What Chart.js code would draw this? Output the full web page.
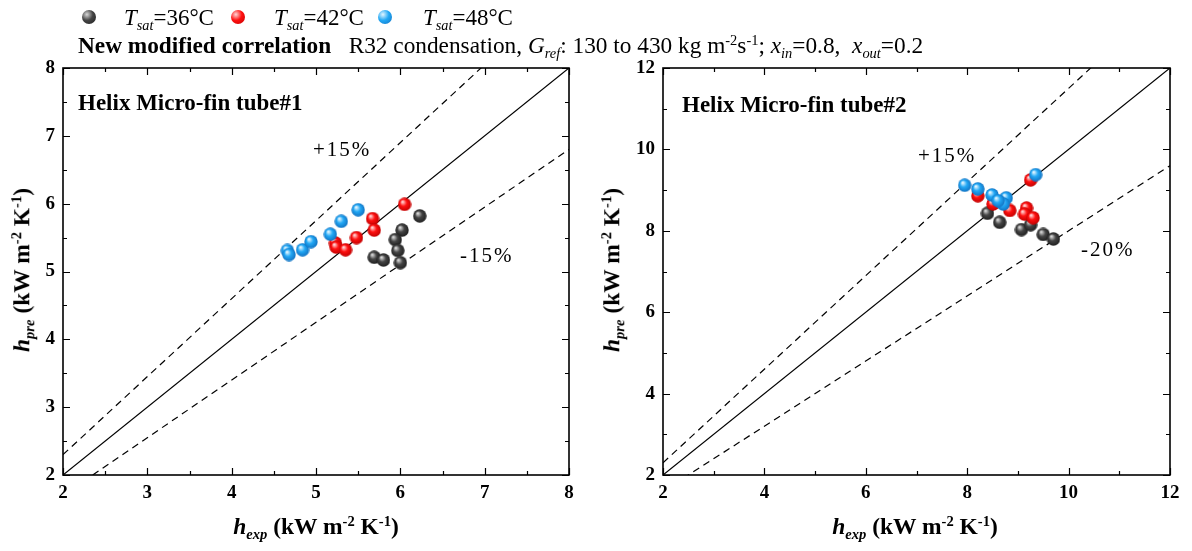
<!DOCTYPE html>
<html lang="en">
<head>
<meta charset="UTF-8">
<title>h_pre vs h_exp, helix micro-fin tubes</title>
<script src="https://cdn.jsdelivr.net/npm/chart.js"></script>
<style>
  body { margin: 0; background: #fff; color: #000; font-family: 'Liberation Serif', 'Times New Roman', serif; }
  #wrap { position: relative; width: 1192px; height: 551px; overflow: hidden; }
  canvas { position: absolute; top: 0; }
  .t { position: absolute; white-space: nowrap; line-height: 1; }
  .c { transform: translate(-50%, -50%); }
  .vc { transform: translateY(-50%); }
  .rot { transform: translate(-50%, -50%) rotate(-90deg); }
  .b { font-weight: bold; }
  .i { font-style: italic; }
  .sub { font-size: 0.62em; position: relative; top: 0.32em; }
  .sup { font-size: 0.62em; position: relative; top: -0.55em; }
  .ball { position: absolute; width: 14px; height: 14px; border-radius: 50%; transform: translate(-50%, -50%); }
  .pct { font-size: 21px; letter-spacing: 2px; }
  .ttl { font-size: 23.5px; }
</style>
</head>
<body>
<div id="wrap">
  <canvas id="c1" width="600" height="551" style="left:0"></canvas>
  <canvas id="c2" width="600" height="551" style="left:592px"></canvas>

  <span class="ball" style="left:89px;top:17px;background:radial-gradient(circle at 35% 32%, #d8d8d8 0, #444 45%, #1e1e1e 100%)"></span>
  <div class="t vc" style="left:124px;top:17px;font-size:23px"><span class="i">T</span><span class="sub i">sat</span>=36°C</div>
  <span class="ball" style="left:238px;top:17px;background:radial-gradient(circle at 35% 32%, #ffd6d6 0, #ff1010 45%, #c00000 100%)"></span>
  <div class="t vc" style="left:274px;top:17px;font-size:23px"><span class="i">T</span><span class="sub i">sat</span>=42°C</div>
  <span class="ball" style="left:385px;top:17px;background:radial-gradient(circle at 35% 32%, #e2f5ff 0, #22a8f5 45%, #1070c0 100%)"></span>
  <div class="t vc" style="left:423px;top:17px;font-size:23px"><span class="i">T</span><span class="sub i">sat</span>=48°C</div>

  <div class="t vc" style="left:78px;top:46px;font-size:23.3px">
    <span class="b">New modified correlation</span>&nbsp;&nbsp; R32 condensation, <span class="i">G</span><span class="sub i">ref</span>: 130 to 430 kg m<span class="sup">-2</span>s<span class="sup">-1</span>; <span class="i">x</span><span class="sub i">in</span>=0.8,&nbsp; <span class="i">x</span><span class="sub i">out</span>=0.2
  </div>

  <div class="t vc b" style="left:78px;top:102px;font-size:23px">Helix Micro-fin tube#1</div>
  <div class="t vc b" style="left:682px;top:104px;font-size:23px">Helix Micro-fin tube#2</div>

  <div class="t vc pct" style="left:313px;top:149px">+15%</div>
  <div class="t vc pct" style="left:460px;top:255px">-15%</div>
  <div class="t vc pct" style="left:918px;top:155px">+15%</div>
  <div class="t vc pct" style="left:1081px;top:249px">-20%</div>

  <div class="t rot b ttl" style="left:22px;top:270px"><span class="i">h</span><span class="sub i">pre</span> (kW m<span class="sup">-2</span> K<span class="sup">-1</span>)</div>
  <div class="t rot b ttl" style="left:612px;top:270px"><span class="i">h</span><span class="sub i">pre</span> (kW m<span class="sup">-2</span> K<span class="sup">-1</span>)</div>
  <div class="t c b ttl" style="left:316px;top:527px"><span class="i">h</span><span class="sub i">exp</span> (kW m<span class="sup">-2</span> K<span class="sup">-1</span>)</div>
  <div class="t c b ttl" style="left:915px;top:527px"><span class="i">h</span><span class="sub i">exp</span> (kW m<span class="sup">-2</span> K<span class="sup">-1</span>)</div>
</div>

<script>
  // tube #1: experimental vs predicted h (kW m-2 K-1), one pair of arrays per Tsat
  const t1_36_exp = [6.23, 6.02, 5.94, 5.97, 5.69, 5.80, 6.00];
  const t1_36_pre = [5.82, 5.61, 5.47, 5.31, 5.21, 5.17, 5.13];
  const t1_42_exp = [5.23, 5.24, 5.35, 5.48, 5.67, 5.69, 6.05];
  const t1_42_pre = [5.42, 5.36, 5.32, 5.50, 5.78, 5.61, 5.99];
  const t1_48_exp = [4.66, 4.68, 4.84, 4.94, 5.17, 5.30, 5.50];
  const t1_48_pre = [5.31, 5.25, 5.32, 5.44, 5.55, 5.74, 5.91];

  // tube #2
  const t2_36_exp = [8.40, 8.64, 9.07, 9.25, 9.50, 9.70];
  const t2_36_pre = [8.43, 8.21, 8.03, 8.15, 7.91, 7.80];
  const t2_42_exp = [8.21, 8.51, 8.84, 9.25, 9.17, 9.13, 9.30];
  const t2_42_pre = [8.86, 8.66, 8.50, 9.25, 8.56, 8.41, 8.32];
  const t2_48_exp = [7.95, 8.21, 8.49, 8.77, 8.71, 8.61, 9.35];
  const t2_48_pre = [9.12, 9.03, 8.88, 8.81, 8.66, 8.74, 9.38];

  // y = k * x reference lines (perfect agreement and error bands)
  const t1_bands = [1, 1.15, 0.85];
  const t2_bands = [1, 1.15, 0.8];

  // axis ranges, labelled ticks and minor step
  const t1_range = [2, 8];
  const t2_range = [2, 12];
  const t1_ticks = [2, 3, 4, 5, 6, 7, 8];
  const t2_ticks = [2, 4, 6, 8, 10, 12];
  const t1_minor = 0.5;
  const t2_minor = 1;

  // shaded sphere used as point style
  function ball(hi, mid, edge, d) {
    const cv = document.createElement('canvas');
    cv.width = cv.height = d;
    const g = cv.getContext('2d');
    const r = d / 2;
    const gr = g.createRadialGradient(r * 0.7, r * 0.62, r * 0.08, r, r, r);
    gr.addColorStop(0, hi);
    gr.addColorStop(0.45, mid);
    gr.addColorStop(1, edge);
    g.fillStyle = gr;
    g.beginPath();
    g.arc(r, r, r - 0.3, 0, Math.PI * 2);
    g.fill();
    return cv;
  }
  const ballBlack = ball('#d8d8d8', '#444', '#1e1e1e', 14);
  const ballRed = ball('#ffd6d6', '#ff1010', '#c00000', 14);
  const ballBlue = ball('#e2f5ff', '#22a8f5', '#1070c0', 14);

  const zip = (xs, ys) => xs.map((x, i) => ({ x: x, y: ys[i] }));

  // box frame with inward ticks on all four sides
  const frame = {
    id: 'frame',
    afterDraw(chart) {
      const { ctx, chartArea: a, scales: { x, y } } = chart;
      ctx.save();
      ctx.strokeStyle = '#000';
      ctx.lineWidth = 1.2;
      ctx.beginPath();
      x.ticks.forEach(t => {
        const px = Math.round(x.getPixelForValue(t.value)) + 0.5;
        const len = t.label ? 7 : 4;
        ctx.moveTo(px, a.bottom); ctx.lineTo(px, a.bottom - len);
        ctx.moveTo(px, a.top); ctx.lineTo(px, a.top + len);
      });
      y.ticks.forEach(t => {
        const py = Math.round(y.getPixelForValue(t.value)) + 0.5;
        const len = t.label ? 7 : 4;
        ctx.moveTo(a.left, py); ctx.lineTo(a.left + len, py);
        ctx.moveTo(a.right, py); ctx.lineTo(a.right - len, py);
      });
      ctx.stroke();
      ctx.lineWidth = 1.6;
      ctx.strokeRect(a.left, a.top, a.right - a.left, a.bottom - a.top);
      ctx.restore();
    }
  };

  function makeChart(id, sets, bands, range, labelled, minor, yWidth, padRight) {
    const tickFont = { family: "'Liberation Serif', 'Times New Roman', serif", size: 19, weight: 'bold' };
    const label = v => labelled.includes(v) ? String(v) : '';

    const datasets = [
      { data: zip(sets[2][0], sets[2][1]), pointStyle: ballBlue },
      { data: zip(sets[1][0], sets[1][1]), pointStyle: ballRed },
      { data: zip(sets[0][0], sets[0][1]), pointStyle: ballBlack }
    ];
    bands.forEach(k => {
      datasets.push({
        type: 'line',
        data: range.map(v => ({ x: v, y: k * v })),
        borderColor: '#000',
        borderWidth: 1.2,
        borderDash: k === 1 ? [] : [7, 5],
        pointRadius: 0,
        fill: false
      });
    });

    return new Chart(document.getElementById(id), {
      type: 'scatter',
      data: { datasets: datasets },
      options: {
        responsive: false,
        animation: false,
        events: [],
        layout: { padding: { left: 0, top: 68, right: padRight, bottom: 0 } },
        plugins: { legend: { display: false }, tooltip: { enabled: false } },
        scales: {
          x: {
            type: 'linear', min: range[0], max: range[1],
            grid: { display: false, drawTicks: false },
            border: { display: false },
            ticks: { stepSize: minor, autoSkip: false, maxRotation: 0, padding: 7, color: '#000', font: tickFont, callback: label },
            afterFit: s => { s.height = 76; s.paddingLeft = 0; s.paddingRight = 0; }
          },
          y: {
            type: 'linear', min: range[0], max: range[1],
            grid: { display: false, drawTicks: false },
            border: { display: false },
            ticks: { stepSize: minor, autoSkip: false, padding: 8, color: '#000', font: tickFont, callback: label },
            afterFit: s => { s.width = yWidth; s.paddingTop = 0; s.paddingBottom = 0; }
          }
        }
      },
      plugins: [frame]
    });
  }

  makeChart('c1',
    [[t1_36_exp, t1_36_pre], [t1_42_exp, t1_42_pre], [t1_48_exp, t1_48_pre]],
    t1_bands, t1_range, t1_ticks, t1_minor, 63, 31);
  makeChart('c2',
    [[t2_36_exp, t2_36_pre], [t2_42_exp, t2_42_pre], [t2_48_exp, t2_48_pre]],
    t2_bands, t2_range, t2_ticks, t2_minor, 71, 22);
</script>
</body>
</html>
